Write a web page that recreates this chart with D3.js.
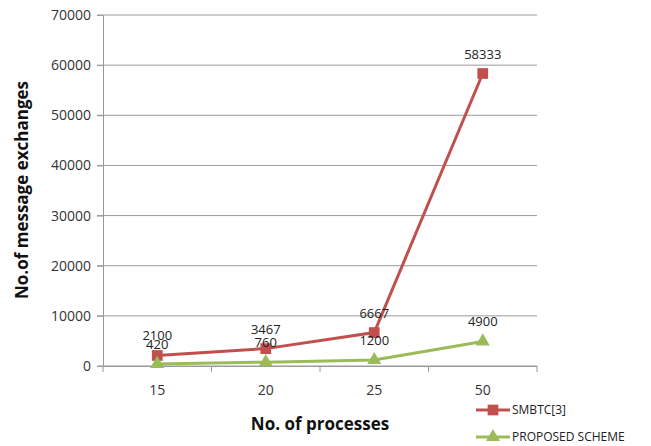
<!DOCTYPE html>
<html>
<head>
<meta charset="utf-8">
<script src="https://cdn.jsdelivr.net/npm/d3@7"></script>
<style>
  body { margin: 0; background: #fff; }
  svg { display: block; }
  text { font-family: "Open Sans", "DejaVu Sans", sans-serif; }
</style>
</head>
<body>
<svg id="chart" width="651" height="446"></svg>
<script>
// Process counts on the x axis
const categories = ["15", "20", "25", "50"];
// Message exchanges per scheme
const smbtcValues = [2100, 3467, 6667, 58333];
const proposedValues = [420, 760, 1200, 4900];
const seriesNames = ["SMBTC[3]", "PROPOSED SCHEME"];
const yTicks = [0, 10000, 20000, 30000, 40000, 50000, 60000, 70000];

const svg = d3.select("#chart");
const plot = { left: 103, right: 537, top: 15, bottom: 366 };

const x = d3.scaleBand().domain(categories).range([plot.left, plot.right]);
const y = d3.scaleLinear().domain([0, 70000]).range([plot.bottom, plot.top]);

const grey = "#9a9a9a";

// Horizontal gridlines
svg.append("g").selectAll("line").data(yTicks).join("line")
  .attr("x1", plot.left - 6).attr("x2", plot.right)
  .attr("y1", d => y(d)).attr("y2", d => y(d))
  .attr("stroke", grey).attr("stroke-width", 1);

// Y axis
const yAxis = svg.append("g").attr("transform", `translate(${plot.left},0)`)
  .call(d3.axisLeft(y).tickValues(yTicks).tickSize(6).tickPadding(6).tickFormat(d3.format("d")));
yAxis.select(".domain").attr("stroke", grey);
yAxis.selectAll(".tick line").attr("stroke", grey);
yAxis.selectAll("text").attr("font-size", 14).attr("fill", "#333");

// X axis
const xAxis = svg.append("g").attr("transform", `translate(0,${plot.bottom})`)
  .call(d3.axisBottom(x).tickSize(0).tickPadding(19));
xAxis.select(".domain").attr("stroke", grey);
xAxis.selectAll("text").attr("font-size", 14).attr("fill", "#333");
// Category boundary ticks
const bounds = categories.map(c => x(c)).concat([plot.right]);
svg.append("g").selectAll("line").data(bounds).join("line")
  .attr("x1", d => d).attr("x2", d => d)
  .attr("y1", plot.bottom).attr("y2", plot.bottom + 6)
  .attr("stroke", grey);

// Axis titles
svg.append("text")
  .attr("x", 320).attr("y", 430).attr("text-anchor", "middle")
  .attr("font-size", 17).attr("font-weight", "bold").attr("fill", "#111")
  .text("No. of processes");
svg.append("text")
  .attr("transform", "translate(28,190) rotate(-90)").attr("text-anchor", "middle")
  .attr("font-size", 17).attr("font-weight", "bold").attr("fill", "#111")
  .text("No.of message exchanges");

const cx = c => x(c) + x.bandwidth() / 2;
const line = d3.line().x((d, i) => cx(categories[i])).y(d => y(d));

const series = [
  { name: seriesNames[0], values: smbtcValues, color: "#C0504D", marker: "square" },
  { name: seriesNames[1], values: proposedValues, color: "#9BBB59", marker: "triangle" }
];

const symbolFor = m => d3.symbol().type(m === "square" ? d3.symbolSquare : d3.symbolTriangle)
  .size(m === "square" ? 115 : 85);

series.forEach(s => {
  svg.append("path").datum(s.values)
    .attr("d", line).attr("fill", "none")
    .attr("stroke", s.color).attr("stroke-width", 3);
  svg.append("g").selectAll("path").data(s.values).join("path")
    .attr("d", symbolFor(s.marker))
    .attr("transform", (d, i) => `translate(${cx(categories[i])},${y(d)})`)
    .attr("fill", s.color);
  svg.append("g").selectAll("text").data(s.values).join("text")
    .attr("x", (d, i) => cx(categories[i]))
    .attr("y", d => y(d) - 15)
    .attr("text-anchor", "middle").attr("font-size", 13).attr("fill", "#222")
    .attr("font-family", "DejaVu Sans, sans-serif")
    .text(d => d);
});

// Legend
const legend = svg.append("g");
series.forEach((s, i) => {
  const ly = 410 + i * 27;
  legend.append("line").attr("x1", 476).attr("x2", 510).attr("y1", ly).attr("y2", ly)
    .attr("stroke", s.color).attr("stroke-width", 3);
  legend.append("path").attr("d", symbolFor(s.marker))
    .attr("transform", `translate(493,${ly})`).attr("fill", s.color);
  legend.append("text").attr("x", 512).attr("y", ly + 4)
    .attr("font-size", 12).attr("fill", "#222").text(s.name);
});
</script>
</body>
</html>
